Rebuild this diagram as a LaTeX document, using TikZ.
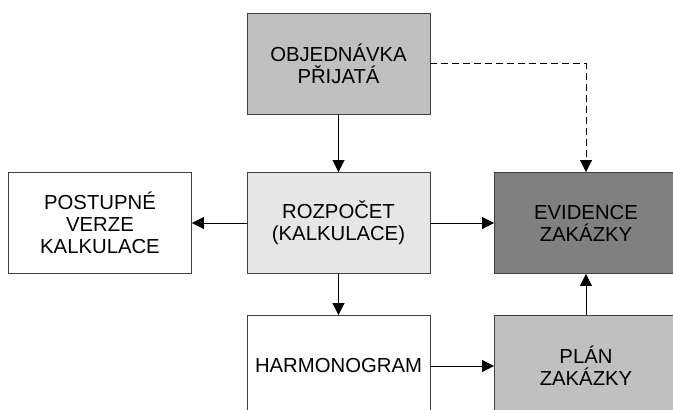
\documentclass[tikz,border=0pt]{standalone}
\usepackage{fontspec}
\setmainfont{Liberation Sans}
\usetikzlibrary{arrows.meta,positioning}
\definecolor{boxgray}{HTML}{C0C0C0}
\definecolor{boxlight}{HTML}{E6E6E6}
\definecolor{boxdark}{HTML}{808080}
\definecolor{rimgray}{HTML}{404040}

\begin{document}
\begin{tikzpicture}[x=1pt, y=-1pt,
        block/.style={draw=rimgray, line width=0.9pt, align=center,
            minimum width=183pt, minimum height=101pt, inner sep=0pt,
            font=\fontsize{20.3}{22}\selectfont},
        link/.style={line width=0.9pt, -{Triangle[length=12pt, width=12pt]}}]
        \useasboundingbox (0,0) rectangle (673,410);

        \node[block, fill=boxgray] (objednavka) at (338.5, 63.5) {OBJEDNÁVKA\\PŘIJATÁ};
        \node[block] (verze) at (100, 223) {POSTUPNÉ\\VERZE\\KALKULACE};
        \node[block, fill=boxlight] (rozpocet) at (338.5, 223) {ROZPOČET\\(KALKULACE)};
        \node[block, fill=boxdark] (evidence) at (586, 223) {EVIDENCE\\ZAKÁZKY};
        \node[block] (harmonogram) at (338.5, 366) {HARMONOGRAM};
        \node[block, fill=boxgray] (plan) at (586, 366) {PLÁN\\ZAKÁZKY};

        \draw[link] (objednavka) -- (rozpocet);
        \draw[link, dash pattern=on 7pt off 4pt] (objednavka.east) -| (evidence.north);
        \draw[link] (rozpocet) -- (verze);
        \draw[link] (rozpocet) -- (evidence);
        \draw[link] (rozpocet) -- (harmonogram);
        \draw[link] (harmonogram) -- (plan);
        \draw[link] (plan) -- (evidence);

    \end{tikzpicture}
\end{document}
